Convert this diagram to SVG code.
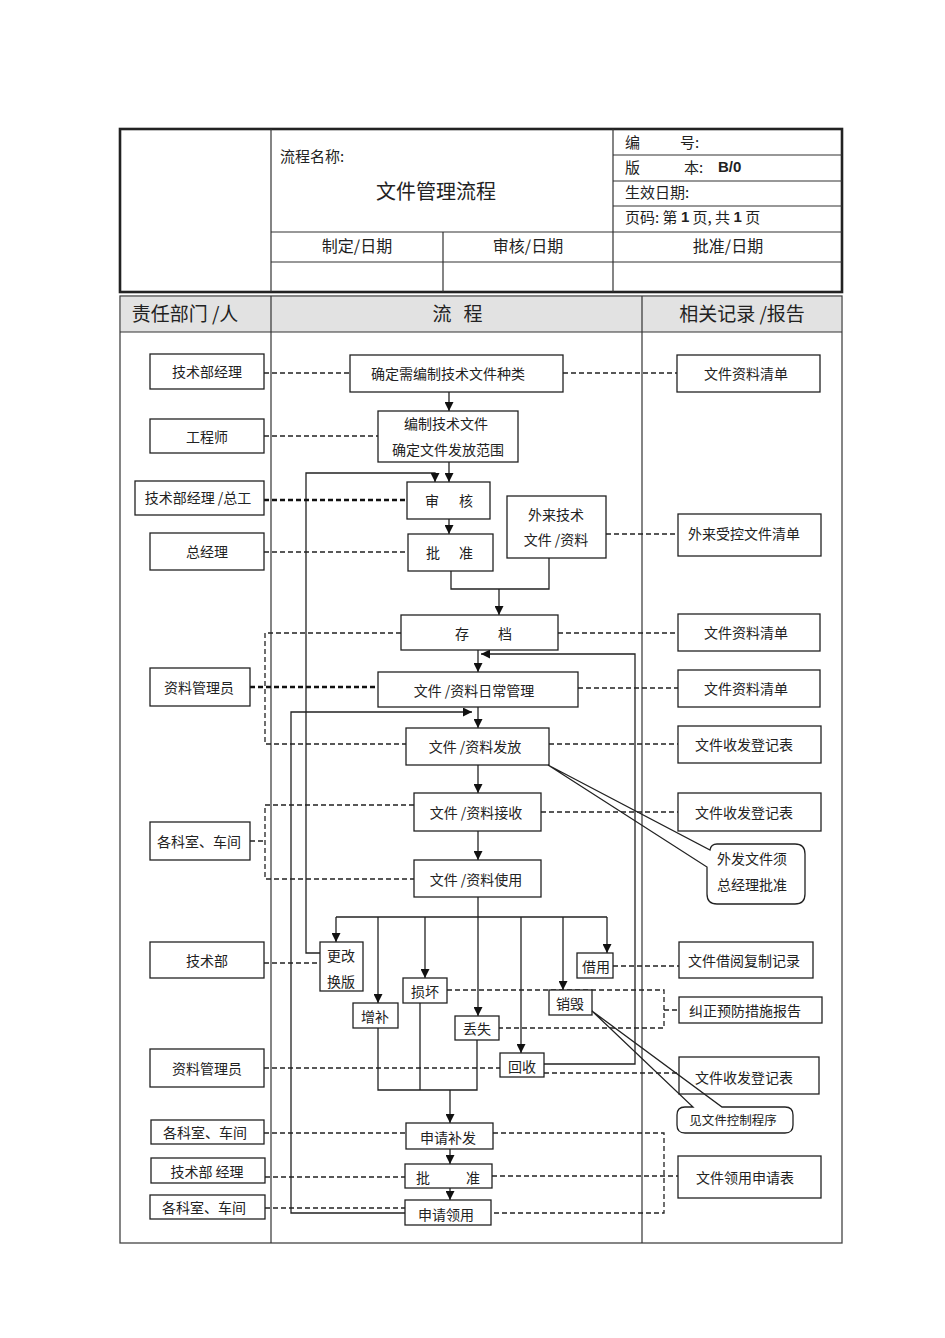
<svg xmlns="http://www.w3.org/2000/svg" width="945" height="1338" viewBox="0 0 945 1338">
<style>
.bg{fill:#fff}
.box{fill:#fff;stroke:#222;stroke-width:1.3}
.t{font-family:"Noto Sans CJK SC","Liberation Sans",sans-serif;font-size:14px;fill:#222;text-anchor:middle;dominant-baseline:central}
.ts{font-family:"Noto Sans CJK SC","Liberation Sans",sans-serif;font-size:15px;fill:#222;dominant-baseline:central}
.h{font-family:"Noto Sans CJK SC","Liberation Sans",sans-serif;font-size:19px;fill:#222;text-anchor:middle;dominant-baseline:central}
.lat{font-family:"Liberation Sans",Arial,sans-serif}
.ln{fill:none;stroke:#222;stroke-width:1.3}
.tb{fill:none;stroke:#333;stroke-width:1.2}
.ar{marker-end:url(#ah)}
.d{fill:none;stroke:#222;stroke-width:1.3;stroke-dasharray:5,3}
.dk{fill:none;stroke:#111;stroke-width:2.3;stroke-dasharray:5,3}
.co{fill:none;stroke:#222;stroke-width:1.3}
</style>
<defs>
<marker id="ah" markerWidth="9" markerHeight="9" refX="9" refY="4.5" orient="auto" markerUnits="userSpaceOnUse">
<path d="M0,0 L9,4.5 L0,9 Z" fill="#111"/>
</marker>
</defs>
<rect class="bg" x="0" y="0" width="945" height="1338"/>

<g id="header-table">
<rect x="120" y="129" width="722" height="163" fill="none" stroke="#222" stroke-width="2.6"/>
<line class="tb" x1="271" y1="129" x2="271" y2="292"/>
<line class="tb" x1="613" y1="129" x2="613" y2="292"/>
<line class="tb" x1="443" y1="232" x2="443" y2="292"/>
<line class="tb" x1="613" y1="155" x2="842" y2="155"/>
<line class="tb" x1="613" y1="181" x2="842" y2="181"/>
<line class="tb" x1="613" y1="206" x2="842" y2="206"/>
<line class="tb" x1="271" y1="232" x2="842" y2="232"/>
<line class="tb" x1="271" y1="262" x2="842" y2="262"/>
<text class="ts" x="280" y="155">流程名称:</text>
<text class="h" x="436" y="190" style="font-size:20px">文件管理流程</text>
<text class="ts" y="141"><tspan x="625">编</tspan><tspan x="680">号:</tspan></text>
<text class="ts" y="166"><tspan x="625">版</tspan><tspan x="684">本:</tspan><tspan x="718" class="lat" font-weight="bold">B/0</tspan></text>
<text class="ts" x="625" y="191">生效日期:</text>
<text class="ts" x="625" y="216">页码: 第 <tspan class="lat" font-weight="bold">1</tspan> 页, 共 <tspan class="lat" font-weight="bold">1</tspan> 页</text>
<text class="t" x="357" y="245" style="font-size:16px">制定/日期</text>
<text class="t" x="528" y="245" style="font-size:16px">审核/日期</text>
<text class="t" x="728" y="245" style="font-size:16px">批准/日期</text>
</g>

<g id="flow-table">
<rect x="120" y="296" width="722" height="947" fill="none" stroke="#444" stroke-width="1.3"/>
<rect x="121" y="297" width="720" height="35" fill="#e2e2e2"/>
<line class="tb" x1="120" y1="332" x2="842" y2="332"/>
<line class="tb" x1="271" y1="296" x2="271" y2="1243"/>
<line class="tb" x1="642" y1="296" x2="642" y2="1243"/>
<text class="h" x="185" y="312">责任部门 /人</text>
<text class="h" y="312"><tspan x="442">流</tspan><tspan x="473">程</tspan></text>
<text class="h" x="742" y="312">相关记录 /报告</text>
</g>

<g id="connectors">
<line class="ln ar" x1="449" y1="392" x2="449" y2="411"/>
<line class="ln ar" x1="449" y1="462" x2="449" y2="482"/>
<path class="ln ar" d="M320,953 H306 V473 H435 V482"/>
<line class="ln ar" x1="449" y1="519" x2="449" y2="534"/>
<path class="ln" d="M451,571 V589 H549 V558"/>
<line class="ln ar" x1="499" y1="589" x2="499" y2="615"/>
<line class="ln ar" x1="478" y1="650" x2="478" y2="672"/>
<path class="ln ar" d="M544,1064 H635 V654 H481"/>
<line class="ln ar" x1="478" y1="707" x2="478" y2="728"/>
<path class="ln ar" d="M405,1213 H291 V712 H472"/>
<line class="ln ar" x1="478" y1="765" x2="478" y2="793"/>
<line class="ln ar" x1="478" y1="831" x2="478" y2="860"/>
<line class="ln" x1="478" y1="897" x2="478" y2="917"/>
<line class="ln" x1="336" y1="917" x2="607" y2="917"/>
<line class="ln ar" x1="336" y1="917" x2="336" y2="942"/>
<line class="ln ar" x1="378" y1="917" x2="378" y2="1003"/>
<line class="ln ar" x1="425" y1="917" x2="425" y2="978"/>
<line class="ln ar" x1="478" y1="917" x2="478" y2="1016"/>
<line class="ln ar" x1="521" y1="917" x2="521" y2="1053"/>
<line class="ln ar" x1="563" y1="917" x2="563" y2="990"/>
<line class="ln ar" x1="607" y1="917" x2="607" y2="953"/>
<path class="ln" d="M378,1028 V1090 H477 V1040 M420,1003 V1090"/>
<line class="ln ar" x1="450" y1="1090" x2="450" y2="1123"/>
<line class="ln ar" x1="450" y1="1149" x2="450" y2="1164"/>
<line class="ln ar" x1="450" y1="1188" x2="450" y2="1200"/>

<line class="d" x1="264" y1="373" x2="350" y2="373"/>
<line class="d" x1="563" y1="373" x2="677" y2="373"/>
<line class="d" x1="264" y1="436" x2="378" y2="436"/>
<line class="dk" x1="264" y1="500" x2="407" y2="500"/>
<line class="d" x1="264" y1="552" x2="408" y2="552"/>
<line class="d" x1="606" y1="534" x2="678" y2="534"/>
<path class="d" d="M401,633 H265 V744 H406"/>
<line class="dk" x1="250" y1="687" x2="378" y2="687"/>
<line class="d" x1="558" y1="633" x2="678" y2="633"/>
<line class="d" x1="578" y1="688" x2="678" y2="688"/>
<line class="d" x1="549" y1="744" x2="678" y2="744"/>
<path class="d" d="M414,805 H265 V879 H414"/>
<line class="d" x1="250" y1="841" x2="265" y2="841"/>
<line class="d" x1="541" y1="812" x2="678" y2="812"/>
<line class="d" x1="264" y1="963" x2="320" y2="963"/>
<line class="d" x1="613" y1="966" x2="679" y2="966"/>
<path class="d" d="M447,990 H664 V1028 H499"/>
<line class="d" x1="664" y1="1010" x2="679" y2="1010"/>
<line class="d" x1="264" y1="1068" x2="500" y2="1068"/>
<line class="d" x1="544" y1="1073" x2="679" y2="1073"/>
<line class="d" x1="264" y1="1133" x2="406" y2="1133"/>
<line class="d" x1="265" y1="1177" x2="405" y2="1177"/>
<line class="d" x1="265" y1="1208" x2="405" y2="1208"/>
<path class="d" d="M493,1133 H664 V1213 H491"/>
<line class="d" x1="492" y1="1176" x2="678" y2="1176"/>
</g>

<g id="L1"><rect class="box" x="150" y="354" width="114" height="35"/><text class="t" x="207" y="371">技术部经理</text></g>
<g id="L2"><rect class="box" x="150" y="419" width="114" height="34"/><text class="t" x="207" y="436">工程师</text></g>
<g id="L3"><rect class="box" x="135" y="481" width="129" height="34"/><text class="t" x="198" y="497">技术部经理 /总工</text></g>
<g id="L4"><rect class="box" x="150" y="533" width="114" height="37"/><text class="t" x="207" y="551">总经理</text></g>
<g id="L5"><rect class="box" x="150" y="668" width="100" height="38"/><text class="t" x="199" y="687">资料管理员</text></g>
<g id="L6"><rect class="box" x="150" y="822" width="100" height="38"/><text class="t" x="199" y="841">各科室、车间</text></g>
<g id="L7"><rect class="box" x="150" y="942" width="114" height="36"/><text class="t" x="207" y="960">技术部</text></g>
<g id="L8"><rect class="box" x="150" y="1049" width="114" height="38"/><text class="t" x="207" y="1068">资料管理员</text></g>
<g id="L9"><rect class="box" x="151" y="1120" width="113" height="24"/><text class="t" x="205" y="1132">各科室、车间</text></g>
<g id="L10"><rect class="box" x="151" y="1158" width="114" height="25"/><text class="t" x="207" y="1171">技术部 经理</text></g>
<g id="L11"><rect class="box" x="150" y="1195" width="115" height="24"/><text class="t" x="204" y="1207">各科室、车间</text></g>

<g id="M1"><rect class="box" x="350" y="355" width="213" height="37"/><text class="t" x="448" y="373">确定需编制技术文件种类</text></g>
<g id="M2"><rect class="box" x="378" y="411" width="140" height="51"/><text class="t" x="446" y="423">编制技术文件</text><text class="t" x="448" y="449">确定文件发放范围</text></g>
<g id="M3"><rect class="box" x="407" y="482" width="83" height="37"/><text class="t" y="500"><tspan x="432">审</tspan><tspan x="466">核</tspan></text></g>
<g id="M4"><rect class="box" x="408" y="534" width="85" height="37"/><text class="t" y="552"><tspan x="433">批</tspan><tspan x="466">准</tspan></text></g>
<g id="M5"><rect class="box" x="507" y="496" width="99" height="62"/><text class="t" x="556" y="514">外来技术</text><text class="t" x="556" y="539">文件 /资料</text></g>
<g id="M6"><rect class="box" x="401" y="615" width="157" height="35"/><text class="t" y="633"><tspan x="462">存</tspan><tspan x="505">档</tspan></text></g>
<g id="M7"><rect class="box" x="378" y="672" width="200" height="35"/><text class="t" x="474" y="690">文件 /资料日常管理</text></g>
<g id="M8"><rect class="box" x="406" y="728" width="143" height="37"/><text class="t" x="475" y="746">文件 /资料发放</text></g>
<g id="M9"><rect class="box" x="414" y="793" width="127" height="38"/><text class="t" x="476" y="812">文件 /资料接收</text></g>
<g id="M10"><rect class="box" x="414" y="860" width="127" height="37"/><text class="t" x="476" y="879">文件 /资料使用</text></g>
<g id="M11"><rect class="box" x="320" y="942" width="43" height="49"/><text class="t" x="341" y="955">更改</text><text class="t" x="341" y="981">换版</text></g>
<g id="M12"><rect class="box" x="353" y="1003" width="45" height="25"/><text class="t" x="375" y="1016">增补</text></g>
<g id="M13"><rect class="box" x="403" y="978" width="44" height="25"/><text class="t" x="425" y="991">损坏</text></g>
<g id="M14"><rect class="box" x="455" y="1016" width="44" height="24"/><text class="t" x="477" y="1028">丢失</text></g>
<g id="M15"><rect class="box" x="500" y="1053" width="44" height="24"/><text class="t" x="522" y="1066">回收</text></g>
<g id="M16"><rect class="box" x="549" y="990" width="43" height="25"/><text class="t" x="570" y="1003">销毁</text></g>
<g id="M17"><rect class="box" x="577" y="953" width="36" height="25"/><text class="t" x="596" y="966">借用</text></g>
<g id="M18"><rect class="box" x="406" y="1123" width="87" height="26"/><text class="t" x="448" y="1137">申请补发</text></g>
<g id="M19"><rect class="box" x="405" y="1164" width="87" height="24"/><text class="t" y="1177"><tspan x="423">批</tspan><tspan x="473">准</tspan></text></g>
<g id="M20"><rect class="box" x="405" y="1200" width="86" height="25"/><text class="t" x="446" y="1214">申请领用</text></g>

<g id="R1"><rect class="box" x="677" y="355" width="143" height="37"/><text class="t" x="746" y="373">文件资料清单</text></g>
<g id="R2"><rect class="box" x="678" y="514" width="143" height="42"/><text class="t" x="744" y="533">外来受控文件清单</text></g>
<g id="R3"><rect class="box" x="678" y="614" width="142" height="37"/><text class="t" x="746" y="632">文件资料清单</text></g>
<g id="R4"><rect class="box" x="678" y="670" width="142" height="37"/><text class="t" x="746" y="688">文件资料清单</text></g>
<g id="R5"><rect class="box" x="678" y="726" width="143" height="37"/><text class="t" x="744" y="744">文件收发登记表</text></g>
<g id="R6"><rect class="box" x="678" y="793" width="143" height="38"/><text class="t" x="744" y="812">文件收发登记表</text></g>
<g id="R8"><rect class="box" x="679" y="942" width="134" height="36"/><text class="t" x="744" y="960">文件借阅复制记录</text></g>
<g id="R9"><rect class="box" x="679" y="997" width="143" height="26"/><text class="t" x="745" y="1010">纠正预防措施报告</text></g>
<g id="R10"><rect class="box" x="679" y="1057" width="140" height="37"/><text class="t" x="744" y="1077">文件收发登记表</text></g>
<g id="R12"><rect class="box" x="678" y="1156" width="143" height="42"/><text class="t" x="745" y="1177">文件领用申请表</text></g>

<g id="R7">
<path class="co" d="M717,844 H795 Q805,844 805,854 V894 Q805,904 795,904 H717 Q707,904 707,894 V867 L548,765 L710,850 Q711,844 717,844 Z"/>
<text class="t" x="752" y="858">外发文件须</text><text class="t" x="752" y="884">总经理批准</text>
</g>
<g id="R11">
<path class="co" d="M685,1107 H693 L592,1011 L722,1107 H785 Q793,1107 793,1115 V1125 Q793,1133 785,1133 H685 Q677,1133 677,1125 V1115 Q677,1107 685,1107 Z"/>
<text class="t" x="733" y="1119" style="font-size:12.5px">见文件控制程序</text>
</g>
</svg>
